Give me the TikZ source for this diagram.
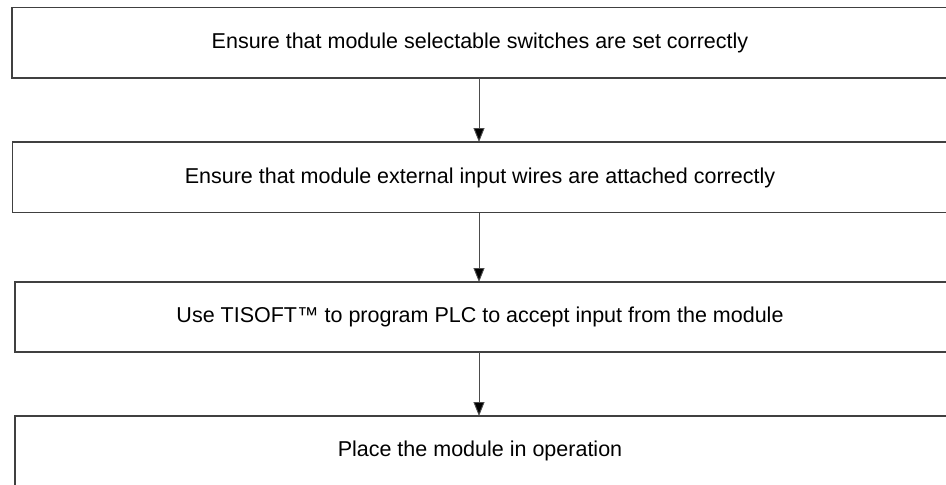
\documentclass[tikz,border=0pt]{standalone}
\usepackage{fontspec}
\setmainfont{Liberation Sans}
\usetikzlibrary{arrows.meta}
\begin{document}
\begin{tikzpicture}[x=1pt,y=-1pt,
  stepbox/.style={draw=black!75,line width=1.1pt},
  steptext/.style={font=\fontsize{21.5}{24}\selectfont,anchor=center},
  flow/.style={draw=black!70,line width=0.9pt,-{Triangle[length=14pt,width=11pt,fill=black]}}]
\useasboundingbox (0,0) rectangle (946,485);
% process steps
\draw[stepbox] (12,7.5) rectangle (948,78);
\draw[stepbox] (12.5,142) rectangle (948,212.5);
\draw[stepbox] (15,282) rectangle (948,352);
\draw[stepbox] (15,416) rectangle (948,490);
\node[steptext] (s1) at (480,43) {Ensure that module selectable switches are set correctly};
\node[steptext] (s2) at (480,177.5) {Ensure that module external input wires are attached correctly};
\node[steptext] (s3) at (480,317) {Use TISOFT™ to program PLC to accept input from the module};
\node[steptext] (s4) at (480,451) {Place the module in operation};
\coordinate (b1) at (479,78);
\coordinate (t2) at (479,142);
\coordinate (b2) at (479,212.5);
\coordinate (t3) at (479,282);
\coordinate (b3) at (479,352);
\coordinate (t4) at (479,416);
\draw[flow] (b1) -- (t2);
\draw[flow] (b2) -- (t3);
\draw[flow] (b3) -- (t4);
\end{tikzpicture}
\end{document}
